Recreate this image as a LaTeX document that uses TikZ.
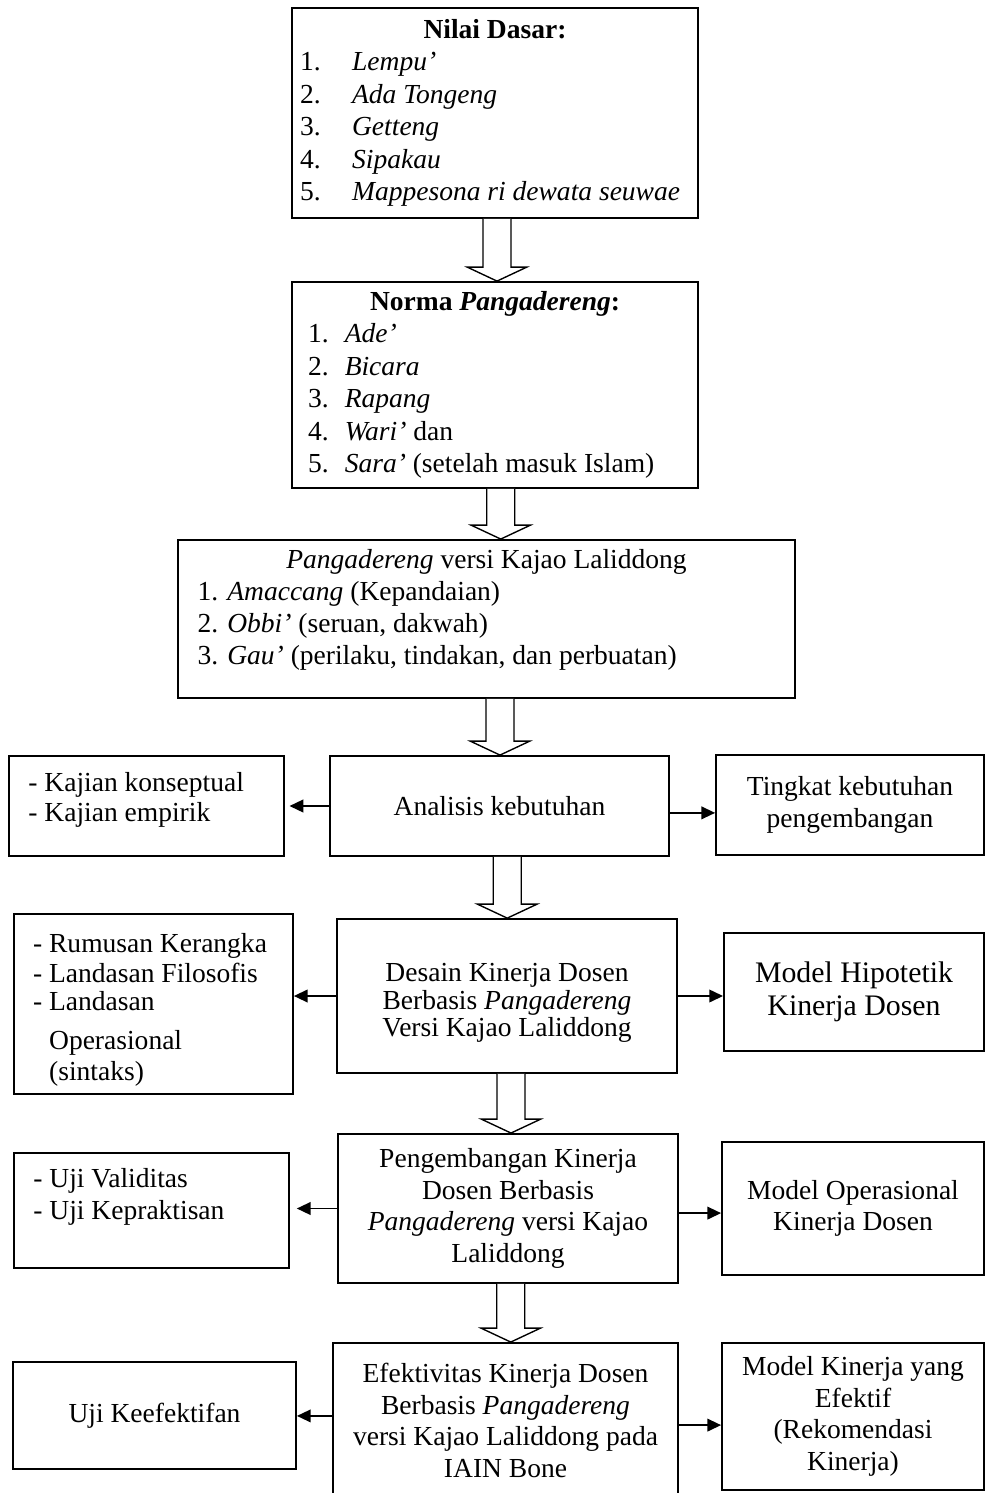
\documentclass[tikz,border=0pt]{standalone}
\usepackage{fontspec}
\setmainfont{Liberation Serif}
\usetikzlibrary{arrows.meta, calc}

% hollow block arrow from the bottom of one box to the top of the next
\newcommand{\blockdown}[3][0]{%
  \draw[blockarrow] let \p1=(#2.south), \p2=(#3.north), \n1={(\x1+\x2)/2+#1*0.436} in
    ({\n1*1pt-6.1pt},\y1) -- ({\n1*1pt-6.1pt},{\y2+6.1pt}) -- ({\n1*1pt-13pt},{\y2+6.1pt})
    -- ({\n1*1pt},\y2) -- ({\n1*1pt+13pt},{\y2+6.1pt}) -- ({\n1*1pt+6.1pt},{\y2+6.1pt})
    -- ({\n1*1pt+6.1pt},\y1);}

\begin{document}
\begin{tikzpicture}[x=0.436pt, y=-0.436pt]
        \tikzstyle{box} = [rectangle, draw, line width=0.8pt, inner sep=0pt, align=center, font=\fontsize{12}{13.8}\selectfont]
        \tikzstyle{arrow} = [-{Triangle[length=6pt, width=5.5pt]}, line width=0.8pt]
        \tikzstyle{blockarrow} = [line width=0.6pt, fill=white]

        \path[use as bounding box] (0,0) rectangle (987,1493);
        \clip (0,0) rectangle (987,1493);

        % main column
        \node[box, minimum width=177pt, minimum height=91.6pt, font=\fontsize{12}{14.2}\selectfont] (nilai) at (495,113) {%
            \begin{tabular}{@{}p{170pt}@{}}
            \multicolumn{1}{@{}c@{}}{\textbf{Nilai Dasar:}}\\
            \makebox[22.7pt][l]{1.}\textit{Lempu'}\\
            \makebox[22.7pt][l]{2.}\textit{Ada Tongeng}\\
            \makebox[22.7pt][l]{3.}\textit{Getteng}\\
            \makebox[22.7pt][l]{4.}\textit{Sipakau}\\
            \makebox[22.7pt][l]{5.}\textit{Mappesona ri dewata seuwae}
            \end{tabular}};
        \node[box, minimum width=177pt, minimum height=89.8pt, font=\fontsize{12}{14.2}\selectfont] (norma) at (495,385) {%
            \begin{tabular}{@{}p{163pt}@{}}
            \multicolumn{1}{@{}c@{}}{\textbf{Norma \textit{Pangadereng}:}}\\
            \makebox[16pt][l]{1.}\textit{Ade'}\\
            \makebox[16pt][l]{2.}\textit{Bicara}\\
            \makebox[16pt][l]{3.}\textit{Rapang}\\
            \makebox[16pt][l]{4.}\textit{Wari'} dan\\
            \makebox[16pt][l]{5.}\textit{Sara'} (setelah masuk Islam)
            \end{tabular}};
        \node[box, minimum width=269pt, minimum height=68.9pt, font=\fontsize{12}{14}\selectfont] (kajao) at (486.5,619) {%
            \begin{tabular}{@{}p{252pt}@{}}
            \multicolumn{1}{@{}c@{}}{\textit{Pangadereng} versi Kajao Laliddong}\\
            1. \textit{Amaccang} (Kepandaian)\\
            2. \textit{Obbi'} (seruan, dakwah)\\
            3. \textit{Gau'} (perilaku, tindakan, dan perbuatan)\\[7.8pt]
            \end{tabular}};
        \node[box, minimum width=147.8pt, minimum height=43.6pt] (analisis) at (499.5,806) {Analisis kebutuhan};
        \node[box, minimum width=148.2pt, minimum height=67.1pt, font=\fontsize{12}{12}\selectfont] (desain) at (507,996)
            {\rule{0pt}{14pt}Desain Kinerja Dosen\\Berbasis \textit{Pangadereng}\\Versi Kajao Laliddong};
        \node[box, minimum width=148.2pt, minimum height=65pt] (pengembangan) at (508,1208.5)
            {Pengembangan Kinerja\\Dosen Berbasis\\\textit{Pangadereng} versi Kajao\\Laliddong};
        \node[box, minimum width=150.4pt, minimum height=67.6pt] (efektivitas) at (505.5,1420.5)
            {Efektivitas Kinerja Dosen\\Berbasis \textit{Pangadereng}\\versi Kajao Laliddong pada\\IAIN Bone};

        % left column
        \node[box, minimum width=119.9pt, minimum height=43.6pt] (kajian) at (146.5,806) {%
            \begin{tabular}{@{}p{103pt}@{}}
            - Kajian konseptual\\[-0.7pt]
            - Kajian empirik\\[5pt]
            \end{tabular}};
        \node[box, minimum width=121.6pt, minimum height=78.5pt] (rumusan) at (153.5,1004) {%
            \begin{tabular}{@{}p{105pt}@{}}
            \rule{0pt}{14.9pt}- Rumusan Kerangka\\[-0.7pt]
            - Landasan Filosofis\\[-1.6pt]
            - Landasan\\[3.2pt]
            \hspace*{7pt}Operasional\\
            \hspace*{7pt}(sintaks)
            \end{tabular}};
        \node[box, minimum width=119.9pt, minimum height=50.1pt] (uji) at (151.5,1210.5) {%
            \begin{tabular}{@{}p{103pt}@{}}
            - Uji Validitas\\
            - Uji Kepraktisan\\[11.4pt]
            \end{tabular}};
        \node[box, minimum width=123.4pt, minimum height=46.7pt] (keefektifan) at (154.5,1415.5) {Uji Keefektifan};

        % right column
        \node[box, minimum width=116.8pt, minimum height=43.6pt] (tingkat) at (850,805) {Tingkat kebutuhan\\pengembangan};
        \node[box, minimum width=113.4pt, minimum height=51.4pt, font=\fontsize{13}{14.2}\selectfont] (hipotetik) at (854,992)
            {Model Hipotetik\\Kinerja Dosen};
        \node[box, minimum width=114.2pt, minimum height=58pt] (operasional) at (853,1208.5) {Model Operasional\\Kinerja Dosen};
        \node[box, minimum width=114.2pt, minimum height=64.1pt] (rekomendasi) at (853,1416.5)
            {Model Kinerja yang\\Efektif\\(Rekomendasi\\Kinerja)};

        % block arrows down the middle
        \blockdown[2]{nilai}{norma}
        \blockdown[10]{norma}{kajao}
        \blockdown[7]{kajao}{analisis}
        \blockdown[4]{analisis}{desain}
        \blockdown[3.5]{desain}{pengembangan}
        \blockdown[4]{pengembangan}{efektivitas}

        % side arrows
        \draw[arrow, shorten >=2pt] (analisis.west) -- (analisis.west -| kajian.east);
        \draw[arrow] ([yshift=-3pt]analisis.east) -- ([yshift=-3pt]analisis.east -| tingkat.west);
        \draw[arrow] (desain.west) -- (desain.west -| rumusan.east);
        \draw[arrow] (desain.east) -- (desain.east -| hipotetik.west);
        \draw[arrow, shorten >=3pt] (pengembangan.west) -- (pengembangan.west -| uji.east);
        \draw[arrow] ([yshift=-2pt]pengembangan.east) -- ([yshift=-2pt]pengembangan.east -| operasional.west);
        \draw[arrow] ([yshift=2pt]efektivitas.west) -- ([yshift=2pt]efektivitas.west -| keefektifan.east);
        \draw[arrow] ([yshift=-2pt]efektivitas.east) -- ([yshift=-2pt]efektivitas.east -| rekomendasi.west);
    \end{tikzpicture}
\end{document}
